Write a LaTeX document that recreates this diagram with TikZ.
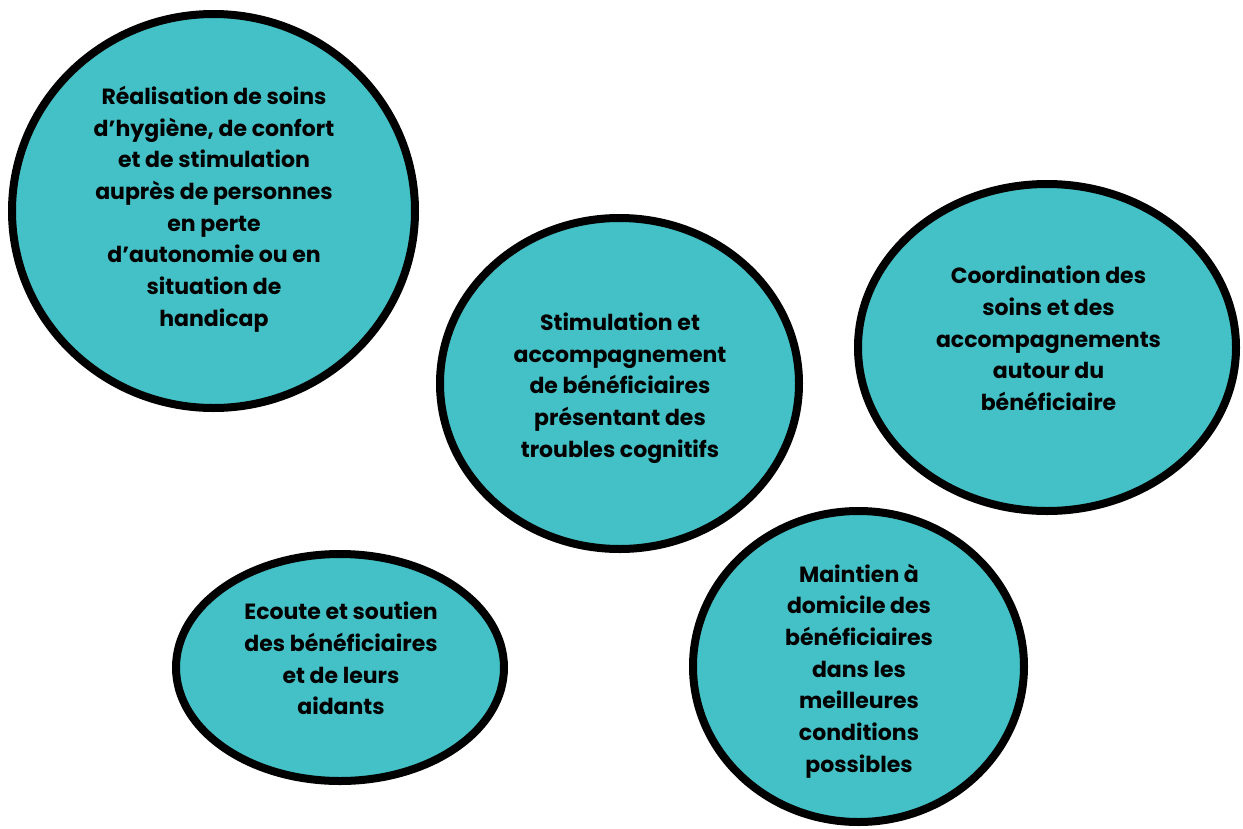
\documentclass[tikz,border=0pt]{standalone}
\usepackage{fontspec}
\setmainfont{Poppins}
\usetikzlibrary{shapes.geometric}
\definecolor{tealfill}{RGB}{67,193,198}
\tikzset{
  blob/.style={ellipse, draw=black, line width=8pt, fill=tealfill, inner sep=0pt},
  lbl/.style={align=center, font=\fontsize{22}{31.7}\selectfont\bfseries, text=black, inner sep=0pt}
}
\begin{document}
\begin{tikzpicture}[x=1pt,y=-1pt]
\useasboundingbox (0,0) rectangle (1243,828);
\node[blob, minimum width=403pt, minimum height=394pt] (e1) at (213.5,211) {};
\node[blob, minimum width=359pt, minimum height=331pt] (e2) at (619.5,383.5) {};
\node[blob, minimum width=378pt, minimum height=327pt] (e3) at (1047,347.5) {};
\node[blob, minimum width=328pt, minimum height=227pt] (e4) at (340,667.5) {};
\node[blob, minimum width=331pt, minimum height=311pt] (e5) at (858.5,666.5) {};
\node[lbl] (t1) at (214,209) {Réalisation de soins\\d’hygiène, de confort\\et de stimulation\\auprès de personnes\\en perte\\d’autonomie ou en\\situation de\\handicap};
\node[lbl] (t2) at (620,388) {Stimulation et\\accompagnement\\de bénéficiaires\\présentant des\\troubles cognitifs};
\node[lbl] (t3) at (1048.5,338.5) {Coordination des\\soins et des\\accompagnements\\autour du\\bénéficiaire};
\node[lbl] (t4) at (341,658.5) {Ecoute et soutien\\des bénéficiaires\\et de leurs\\aidants};
\node[lbl] (t5) at (859,671) {Maintien à\\domicile des\\bénéficiaires\\dans les\\meilleures\\conditions\\possibles};
\end{tikzpicture}
\end{document}
